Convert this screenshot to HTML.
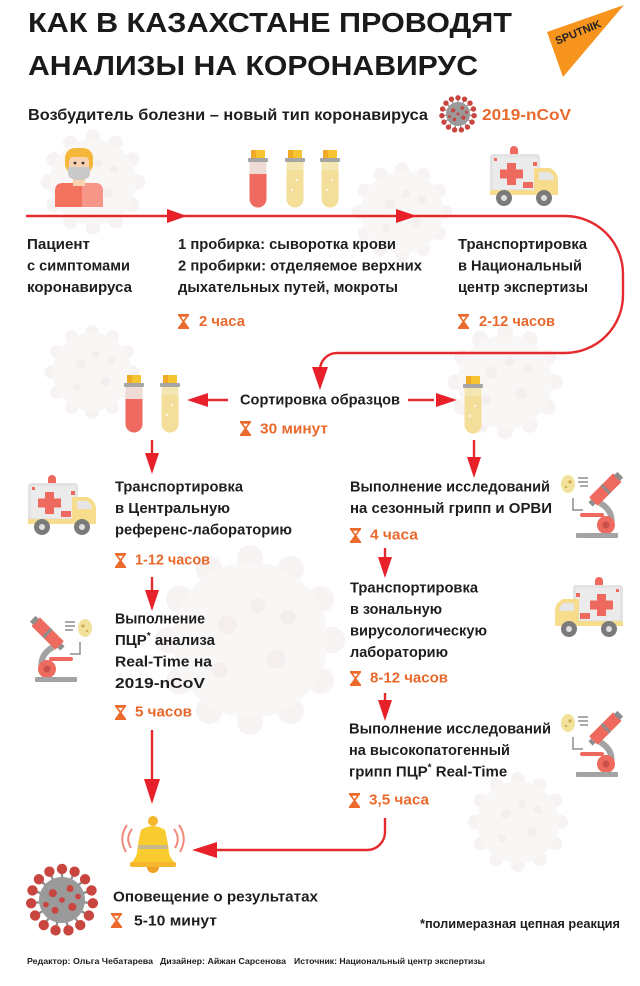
<!DOCTYPE html>
<html><head><meta charset="utf-8">
<style>
html,body{margin:0;padding:0;background:#fff;}
svg{display:block;}
text{font-family:"Liberation Sans","Noto Sans CJK SC",sans-serif;font-weight:bold;}
.t{font-size:15px;fill:#1e1e1e;}
.o{font-size:15px;fill:#e9692c;}
</style></head>
<body>
<svg width="640" height="986" viewBox="0 0 640 986" xmlns="http://www.w3.org/2000/svg">
<defs>
  <g id="hg">
    <rect x="0" y="0" width="11" height="2" fill="#ec6a2c"/>
    <rect x="0" y="13" width="11" height="2" fill="#ec6a2c"/>
    <path d="M1.5 2 L9.5 2 L5.5 7.5 L9.5 13 L1.5 13 L5.5 7.5 Z" fill="none" stroke="#ec6a2c" stroke-width="1.6" stroke-linejoin="round"/>
    <path d="M5.5 8.5 L9 13 L2 13 Z" fill="#ec6a2c"/>
  </g>
  <g id="amb">
    <path d="M20 9 V4 A4 4 0 0 1 28 4 V9 Z" fill="#ef6a5e"/>
    <rect x="0" y="8" width="50" height="38" rx="3" fill="#e3e3e3"/>
    <rect x="3" y="11" width="44" height="32" rx="2" fill="#ebebeb"/>
    <rect x="17" y="17" width="9" height="22" fill="#ef6a5e"/>
    <rect x="10" y="23.5" width="23" height="9" fill="#ef6a5e"/>
    <rect x="4" y="12" width="3" height="3" fill="#ef6a5e"/>
    <rect x="43" y="16" width="4" height="4" fill="#ef6a5e"/>
    <path d="M44 22 H60 Q68 26 68 34 V46 H44 Z" fill="#f6dc8c"/>
    <path d="M49 26 H59 Q64 29 64 34 H49 Z" fill="#e6e6e6"/>
    <rect x="33" y="36" width="10" height="6" fill="#ef6a5e"/>
    <rect x="0" y="44" width="68" height="5" fill="#f6dc8c"/>
    <circle cx="14" cy="52" r="8" fill="#7b7b7b"/>
    <circle cx="14" cy="52" r="3" fill="#e0e0e0"/>
    <circle cx="54" cy="52" r="8" fill="#7b7b7b"/>
    <circle cx="54" cy="52" r="3" fill="#e0e0e0"/>
  </g>
  <g id="mic">
    <ellipse cx="52" cy="11" rx="7" ry="9" fill="#f2e19a"/>
    <circle cx="50" cy="9" r="1.6" fill="#c9a84a"/>
    <circle cx="54" cy="14" r="1.1" fill="#c9a84a"/>
    <line x1="32" y1="5" x2="42" y2="5" stroke="#8d8d8d" stroke-width="1.5"/>
    <line x1="32" y1="9" x2="42" y2="9" stroke="#8d8d8d" stroke-width="1.5"/>
    <line x1="32" y1="13" x2="40" y2="13" stroke="#8d8d8d" stroke-width="1.5"/>
    <path d="M47 25 V37 H37" fill="none" stroke="#8d8d8d" stroke-width="1.5"/>
    <path d="M20 30 Q3 40 11 58" fill="none" stroke="#a3a3a3" stroke-width="6"/>
    <g transform="rotate(-45 16 18)">
      <rect x="10" y="-1" width="12" height="34" rx="1" fill="#ef6a5e"/>
      <rect x="12" y="-5" width="8" height="5" fill="#8d8d8d"/>
      <rect x="10" y="14" width="12" height="3" fill="#8d8d8d"/>
      <rect x="13" y="33" width="6" height="4" fill="#8d8d8d"/>
    </g>
    <rect x="16" y="40" width="24" height="4" rx="2" fill="#ef6a5e"/>
    <circle cx="14" cy="52" r="9" fill="#ef6a5e"/>
    <circle cx="14" cy="52" r="3.5" fill="#c95048"/>
    <rect x="2" y="60" width="42" height="5" rx="1" fill="#a3a3a3"/>
  </g>
  <g id="tr">
    <path d="M1.5 12 H18.5 V49 A8.5 8.5 0 0 1 1.5 49 Z" fill="#eedbd6"/>
    <path d="M1.5 24 H18.5 V49 A8.5 8.5 0 0 1 1.5 49 Z" fill="#ef6a61"/>
    <rect x="3" y="0" width="14" height="9" fill="#f7c431"/>
    <rect x="3" y="0" width="5" height="9" fill="#f0aa26"/>
    <rect x="0" y="8" width="20" height="4" rx="1" fill="#a6a6a6"/>
  </g>
  <g id="ty">
    <path d="M1.5 12 H18.5 V49 A8.5 8.5 0 0 1 1.5 49 Z" fill="#f4e7b4"/>
    <path d="M1.5 20 H18.5 V49 A8.5 8.5 0 0 1 1.5 49 Z" fill="#f3df9a"/>
    <circle cx="12" cy="30" r="1" fill="#fff"/>
    <circle cx="7" cy="40" r="1" fill="#fff"/>
    <rect x="3" y="0" width="14" height="9" fill="#f7c431"/>
    <rect x="3" y="0" width="5" height="9" fill="#f0aa26"/>
    <rect x="0" y="8" width="20" height="4" rx="1" fill="#a6a6a6"/>
  </g>
  <g id="spkw"><circle cx="0" cy="-43" r="7" fill="#f8f3f3"/></g>
  <g id="vw">
    <use href="#spkw"/><use href="#spkw" transform="rotate(30)"/><use href="#spkw" transform="rotate(60)"/>
    <use href="#spkw" transform="rotate(90)"/><use href="#spkw" transform="rotate(120)"/><use href="#spkw" transform="rotate(150)"/>
    <use href="#spkw" transform="rotate(180)"/><use href="#spkw" transform="rotate(210)"/><use href="#spkw" transform="rotate(240)"/>
    <use href="#spkw" transform="rotate(270)"/><use href="#spkw" transform="rotate(300)"/><use href="#spkw" transform="rotate(330)"/>
    <circle cx="0" cy="0" r="41" fill="#f9f6f6"/>
    <circle cx="-12" cy="-8" r="5" fill="#f5eeee"/><circle cx="14" cy="10" r="5" fill="#f5eeee"/><circle cx="4" cy="-18" r="4" fill="#f5eeee"/>
    <circle cx="-16" cy="16" r="4" fill="#f5eeee"/><circle cx="20" cy="-12" r="4" fill="#f5eeee"/>
  </g>
  <g id="spk"><line x1="0" y1="-18" x2="0" y2="-25" stroke="#8e8e8e" stroke-width="2"/><circle cx="0" cy="-27" r="4.5" fill="#c9453f"/></g>
  <g id="vir">
    <use href="#spk"/><use href="#spk" transform="rotate(24)"/><use href="#spk" transform="rotate(48)"/><use href="#spk" transform="rotate(72)"/>
    <use href="#spk" transform="rotate(96)"/><use href="#spk" transform="rotate(120)"/><use href="#spk" transform="rotate(144)"/><use href="#spk" transform="rotate(168)"/>
    <use href="#spk" transform="rotate(192)"/><use href="#spk" transform="rotate(216)"/><use href="#spk" transform="rotate(240)"/><use href="#spk" transform="rotate(264)"/>
    <use href="#spk" transform="rotate(288)"/><use href="#spk" transform="rotate(312)"/><use href="#spk" transform="rotate(336)"/>
    <circle cx="0" cy="0" r="20" fill="#9a9a9a"/>
    <circle cx="-8" cy="-6" r="3.5" fill="#c9453f"/><circle cx="7" cy="-10" r="3" fill="#c9453f"/>
    <circle cx="9" cy="6" r="3.5" fill="#c9453f"/><circle cx="-6" cy="9" r="3" fill="#c9453f"/>
    <circle cx="0" cy="0" r="2.5" fill="#c9453f"/><circle cx="-14" cy="4" r="2.5" fill="#c9453f"/><circle cx="14" cy="-3" r="2.5" fill="#c9453f"/>
  </g>
</defs>

<!-- faint watermark viruses -->
<use href="#vw" transform="translate(93,182) scale(1.05)"/>
<use href="#vw" transform="translate(402,212) scale(1.0)"/>
<use href="#vw" transform="translate(92,372) scale(0.95)"/>
<use href="#vw" transform="translate(505,382) scale(1.15)"/>
<use href="#vw" transform="translate(250,640) scale(1.9)"/>
<use href="#vw" transform="translate(518,822) scale(1.0)"/>

<!-- Sputnik logo -->
<polygon points="547,32 624,5 563,77" fill="#f7941e"/>
<text x="578" y="36" font-size="11" fill="#222" text-anchor="middle" transform="rotate(-22 578 32)">SPUTNIK</text>

<!-- Title -->
<text x="28" y="32" font-size="28" fill="#1a1a1a" textLength="484" lengthAdjust="spacingAndGlyphs">КАК В КАЗАХСТАНЕ ПРОВОДЯТ</text>
<text x="28" y="75" font-size="28" fill="#1a1a1a" textLength="450" lengthAdjust="spacingAndGlyphs">АНАЛИЗЫ НА КОРОНАВИРУС</text>

<!-- Subtitle -->
<text x="28" y="120" font-size="16" fill="#1e1e1e" textLength="400" lengthAdjust="spacingAndGlyphs">Возбудитель болезни – новый тип коронавируса</text>
<use href="#vir" transform="translate(458,114) scale(0.6)"/>
<text x="482" y="120" font-size="16" fill="#e9692c" textLength="89" lengthAdjust="spacingAndGlyphs">2019-nCoV</text>

<!-- Patient -->
<path d="M55 207 V191 Q55 183 63 183 H95 Q103 183 103 191 V207 Z" fill="#f3725e"/>
<path d="M82 183 H95 Q103 183 103 191 V207 H82 Z" fill="#f69688"/>
<rect x="73" y="174" width="12" height="12" fill="#f9d3b0"/>
<rect x="65" y="148" width="28" height="26" rx="10" fill="#f4b73a"/>
<rect x="69" y="156" width="20" height="22" rx="6" fill="#f9d3b0"/>
<rect x="69" y="152" width="20" height="5" fill="#f4b73a"/>
<circle cx="75" cy="163" r="1.4" fill="#333"/>
<circle cx="83" cy="163" r="1.4" fill="#333"/>
<path d="M68 167 H90 V173 Q90 180 79 180 Q68 180 68 173 Z" fill="#c9c9c9"/>

<!-- Tubes row 1 -->
<use href="#tr" x="248" y="150"/>
<use href="#ty" x="285" y="150"/>
<use href="#ty" x="320" y="150"/>

<!-- Ambulance row 1 -->
<use href="#amb" x="490" y="146"/>

<!-- Main line -->
<path d="M26 216 H565 A58 58 0 0 1 623 274 V295 A58 58 0 0 1 565 353 H337 A17 17 0 0 0 320 370 V372" fill="none" stroke="#e52a2f" stroke-width="2.4"/>
<polygon points="187,216 167,209 167,223" fill="#e8202a"/>
<polygon points="417,216 396,209 396,223" fill="#e8202a"/>
<polygon points="320,390 312,367 328,367" fill="#e8202a"/>

<!-- Row 1 texts -->
<text class="t" x="27" y="249" textLength="63" lengthAdjust="spacingAndGlyphs">Пациент</text>
<text class="t" x="27" y="270.5" textLength="103" lengthAdjust="spacingAndGlyphs">с симптомами</text>
<text class="t" x="27" y="292" textLength="105" lengthAdjust="spacingAndGlyphs">коронавируса</text>

<text class="t" x="178" y="249" textLength="218" lengthAdjust="spacingAndGlyphs">1 пробирка: сыворотка крови</text>
<text class="t" x="178" y="270.5" textLength="244" lengthAdjust="spacingAndGlyphs">2 пробирки: отделяемое верхних</text>
<text class="t" x="178" y="292" textLength="220" lengthAdjust="spacingAndGlyphs">дыхательных путей, мокроты</text>

<text class="t" x="458" y="249" textLength="129" lengthAdjust="spacingAndGlyphs">Транспортировка</text>
<text class="t" x="458" y="270.5" textLength="124" lengthAdjust="spacingAndGlyphs">в Национальный</text>
<text class="t" x="458" y="292" textLength="130" lengthAdjust="spacingAndGlyphs">центр экспертизы</text>

<use href="#hg" x="178" y="314"/>
<text class="o" x="199" y="326" textLength="46" lengthAdjust="spacingAndGlyphs">2 часа</text>
<use href="#hg" x="458" y="314"/>
<text class="o" x="479" y="326" textLength="76" lengthAdjust="spacingAndGlyphs">2-12 часов</text>

<!-- Sorting row -->
<use href="#tr" x="124" y="375"/>
<use href="#ty" x="160" y="375"/>
<use href="#ty" x="463" y="376"/>
<line x1="228" y1="400" x2="205" y2="400" stroke="#e52a2f" stroke-width="2.4"/>
<polygon points="187,400 208,393 208,407" fill="#e8202a"/>
<line x1="408" y1="400" x2="434" y2="400" stroke="#e52a2f" stroke-width="2.4"/>
<polygon points="457,400 436,393 436,407" fill="#e8202a"/>
<text class="t" x="240" y="404.5" textLength="160" lengthAdjust="spacingAndGlyphs">Сортировка образцов</text>
<use href="#hg" x="240" y="421"/>
<text class="o" x="260" y="433.5" textLength="68" lengthAdjust="spacingAndGlyphs">30 минут</text>

<!-- vertical arrows from sorting -->
<line x1="152" y1="440" x2="152" y2="456" stroke="#e52a2f" stroke-width="2.4"/>
<polygon points="152,474 145,453 159,453" fill="#e8202a"/>
<line x1="474" y1="440" x2="474" y2="458" stroke="#e52a2f" stroke-width="2.4"/>
<polygon points="474,478 467,457 481,457" fill="#e8202a"/>

<!-- Left column -->
<use href="#amb" x="28" y="475"/>
<text class="t" x="115" y="491.5" textLength="128" lengthAdjust="spacingAndGlyphs">Транспортировка</text>
<text class="t" x="115" y="513" textLength="115" lengthAdjust="spacingAndGlyphs">в Центральную</text>
<text class="t" x="115" y="534.5" textLength="177" lengthAdjust="spacingAndGlyphs">референс-лабораторию</text>
<use href="#hg" x="115" y="553"/>
<text class="o" x="135" y="564.5" textLength="75" lengthAdjust="spacingAndGlyphs">1-12 часов</text>

<line x1="152" y1="577" x2="152" y2="593" stroke="#e52a2f" stroke-width="2.4"/>
<polygon points="152,611 145,590 159,590" fill="#e8202a"/>

<use href="#mic" x="33" y="617"/>
<text class="t" x="115" y="623.5" textLength="90" lengthAdjust="spacingAndGlyphs">Выполнение</text>
<text class="t" x="115" y="645">ПЦР<tspan font-size="10" dy="-6">*</tspan><tspan dy="6"> анализа</tspan></text>
<text class="t" x="115" y="666.5" textLength="97" lengthAdjust="spacingAndGlyphs">Real-Time на</text>
<text class="t" x="115" y="688" textLength="90" lengthAdjust="spacingAndGlyphs">2019-nCoV</text>
<use href="#hg" x="115" y="705"/>
<text class="o" x="135" y="716.5" textLength="57" lengthAdjust="spacingAndGlyphs">5 часов</text>

<line x1="152" y1="730" x2="152" y2="782" stroke="#e52a2f" stroke-width="2.4"/>
<polygon points="152,804 144,779 160,779" fill="#e8202a"/>

<!-- Right column -->
<use href="#mic" transform="translate(620,473) scale(-1,1)"/>
<text class="t" x="350" y="491.5" textLength="200" lengthAdjust="spacingAndGlyphs">Выполнение исследований</text>
<text class="t" x="350" y="513" textLength="202" lengthAdjust="spacingAndGlyphs">на сезонный грипп и ОРВИ</text>
<use href="#hg" x="350" y="528"/>
<text class="o" x="370" y="539.5" textLength="48" lengthAdjust="spacingAndGlyphs">4 часа</text>

<line x1="385" y1="548" x2="385" y2="560" stroke="#e52a2f" stroke-width="2.4"/>
<polygon points="385,578 378,557 392,557" fill="#e8202a"/>

<use href="#amb" transform="translate(623,577) scale(-1,1)"/>
<text class="t" x="350" y="592.5" textLength="128" lengthAdjust="spacingAndGlyphs">Транспортировка</text>
<text class="t" x="350" y="614" textLength="92" lengthAdjust="spacingAndGlyphs">в зональную</text>
<text class="t" x="350" y="635.5" textLength="137" lengthAdjust="spacingAndGlyphs">вирусологическую</text>
<text class="t" x="350" y="657" textLength="98" lengthAdjust="spacingAndGlyphs">лабораторию</text>
<use href="#hg" x="350" y="671"/>
<text class="o" x="370" y="682.5" textLength="78" lengthAdjust="spacingAndGlyphs">8-12 часов</text>

<line x1="385" y1="693" x2="385" y2="703" stroke="#e52a2f" stroke-width="2.4"/>
<polygon points="385,721 378,700 392,700" fill="#e8202a"/>

<use href="#mic" transform="translate(620,712) scale(-1,1)"/>
<text class="t" x="349" y="733.5" textLength="202" lengthAdjust="spacingAndGlyphs">Выполнение исследований</text>
<text class="t" x="349" y="755" textLength="161" lengthAdjust="spacingAndGlyphs">на высокопатогенный</text>
<text class="t" x="349" y="776.5">грипп ПЦР<tspan font-size="10" dy="-6">*</tspan><tspan dy="6"> Real-Time</tspan></text>
<use href="#hg" x="349" y="793"/>
<text class="o" x="369" y="804.5" textLength="60" lengthAdjust="spacingAndGlyphs">3,5 часа</text>

<path d="M385 818 V832 A18 18 0 0 1 367 850 H214" fill="none" stroke="#e52a2f" stroke-width="2.4"/>
<polygon points="192,850 217,842 217,858" fill="#e8202a"/>

<!-- Bell -->
<path d="M132 829 Q125 838 131 848" fill="none" stroke="#f08a7a" stroke-width="2"/>
<path d="M127 825 Q118 838 126 852" fill="none" stroke="#f08a7a" stroke-width="2"/>
<path d="M174 829 Q181 838 175 848" fill="none" stroke="#f08a7a" stroke-width="2"/>
<path d="M179 825 Q188 838 180 852" fill="none" stroke="#f08a7a" stroke-width="2"/>
<circle cx="153" cy="821" r="5" fill="#f5b52c"/>
<path d="M141 830 Q153 822 165 830 Q168 842 169 853 Q171 860 176 864 H130 Q135 860 137 853 Q138 842 141 830 Z" fill="#f8cc2e"/>
<path d="M138.5 845 H167.5 L168 849 H138 Z" fill="#c9b88a"/>
<rect x="130" y="862" width="46" height="5" rx="2" fill="#f5b52c"/>
<path d="M147 867 H159 A6 6 0 0 1 147 867 Z" fill="#f0a020"/>

<!-- Bottom virus -->
<use href="#vir" transform="translate(62,900) scale(1.15)"/>

<text class="t" x="113" y="901.5" textLength="205" lengthAdjust="spacingAndGlyphs">Оповещение о результатах</text>
<use href="#hg" x="111" y="913"/>
<text class="t" x="134" y="925.5" font-size="16" textLength="83" lengthAdjust="spacingAndGlyphs">5-10 минут</text>

<text x="420" y="928" font-size="13" fill="#1e1e1e" textLength="200" lengthAdjust="spacingAndGlyphs">*полимеразная цепная реакция</text>

<!-- Footer -->
<text x="27" y="964" font-size="8.5" fill="#1e1e1e" textLength="126" lengthAdjust="spacingAndGlyphs">Редактор: Ольга Чебатарева</text>
<text x="160" y="964" font-size="8.5" fill="#1e1e1e" textLength="126" lengthAdjust="spacingAndGlyphs">Дизайнер: Айжан Сарсенова</text>
<text x="294" y="964" font-size="8.5" fill="#1e1e1e" textLength="191" lengthAdjust="spacingAndGlyphs">Источник: Национальный центр экспертизы</text>
</svg>
</body></html>
